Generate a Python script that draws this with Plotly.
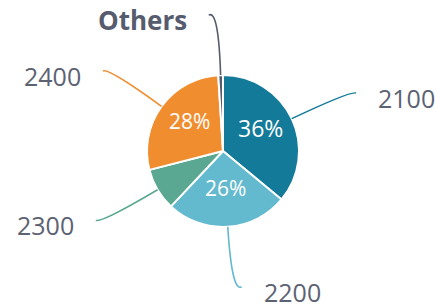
import math
import plotly.graph_objects as go

labels = ["2100", "2200", "2300", "2400", "Others"]
values = [36, 26, 9, 28, 1]
colors = ["#147a99", "#63b9cd", "#5aa891", "#f08d2f", "#565c6e"]
show_pct = [True, True, False, True, False]
inside_sizes = [23, 21, 21, 21, 21]

W, H = 435, 308
cx, cy, R = 223, 151, 76

fig = go.Figure()
fig.add_trace(go.Pie(
    labels=labels, values=values, sort=False, direction="clockwise", rotation=0,
    marker=dict(colors=colors, line=dict(color="white", width=2)),
    textinfo="none",
    showlegend=False, hoverinfo="label+percent",
    domain=dict(x=[(cx - R) / W, (cx + R) / W], y=[1 - (cy + R) / H, 1 - (cy - R) / H]),
))

def px(x, y):
    return x / W, 1 - y / H

total = sum(values)
cum = 0
shapes = []
annotations = []
for lab, v, col, show, fs in zip(labels, values, colors, show_pct, inside_sizes):
    mid = (cum + v / 2) / total * 2 * math.pi
    cum += v
    ux, uy = math.sin(mid), -math.cos(mid)
    side = 1 if ux >= 0 else -1
    # leader line
    p0 = (cx + R * ux, cy + R * uy)
    p1 = (cx + (R + 66) * ux, cy + (R + 66) * uy)
    p2 = (cx + (R + 60) * ux + side * 10, cy + (R + 60) * uy)
    a = px(*p0); b = px(*p1); c = px(*p2)
    shapes.append(dict(type="path", xref="paper", yref="paper",
                       path=f"M {a[0]},{a[1]} Q {b[0]},{b[1]} {c[0]},{c[1]}",
                       line=dict(color=col, width=1.6)))
    # outside label
    tx, ty = px(p2[0] + side * 20, p2[1] + 5)
    bold = lab == "Others"
    annotations.append(dict(
        x=tx, y=ty, xref="paper", yref="paper", showarrow=False,
        xanchor="left" if side > 0 else "right", yanchor="middle",
        text=f"<b>{lab}</b>" if bold else lab,
        font=dict(family="Open Sans", size=26 if bold else 25,
                  color="#565c6e" if bold else "#5c6273"),
    ))
    # inside percent
    if show:
        ix, iy = px(cx + 0.55 * R * ux, cy + 0.55 * R * uy - 5)
        annotations.append(dict(
            x=ix, y=iy, xref="paper", yref="paper", showarrow=False,
            xanchor="center", yanchor="middle",
            text=f"{round(v / total * 100)}%",
            font=dict(family="Open Sans", size=fs, color="white"),
        ))

fig.update_layout(
    width=W, height=H, margin=dict(l=0, r=0, t=0, b=0),
    paper_bgcolor="white", plot_bgcolor="white",
    shapes=shapes, annotations=annotations,
)
fig.write_html("out.html", config={"displayModeBar": False},
               post_script="document.body.style.margin='0';document.body.style.overflow='hidden';")
